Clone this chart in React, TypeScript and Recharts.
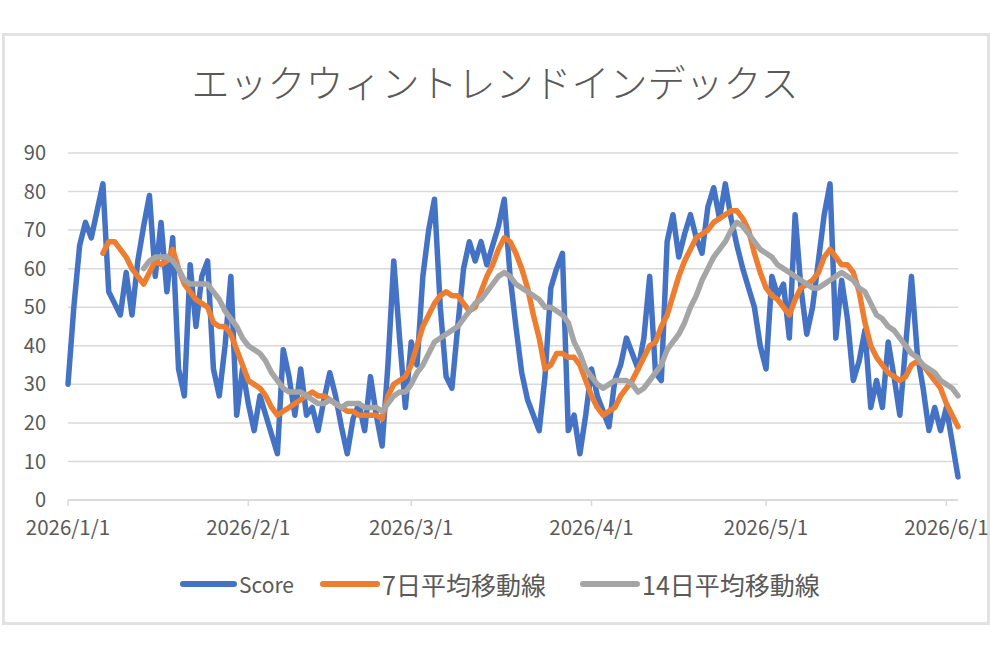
import { CartesianGrid, Line, LineChart, XAxis, YAxis } from 'recharts'

// days counted from 2026/1/1 (day 0) through 2026/6/3 (day 153)
const scores = [
  30, 50, 66, 72, 68, 75, 82, 54, 51, 48,
  59, 48, 62, 71, 79, 58, 72, 54, 68, 34,
  27, 61, 45, 58, 62, 34, 27, 40, 58, 22,
  34, 25, 18, 27, 22, 17, 12, 39, 32, 22,
  34, 22, 24, 18, 26, 33, 27, 19, 12, 21,
  25, 18, 32, 22, 14, 35, 62, 42, 24, 41,
  35, 58, 70, 78, 50, 32, 29, 45, 60, 67,
  62, 67, 61, 66, 71, 78, 58, 45, 33, 26,
  22, 18, 32, 55, 60, 64, 18, 22, 12, 22,
  34, 27, 23, 19, 31, 35, 42, 38, 34, 42,
  58, 33, 31, 67, 74, 63, 69, 74, 68, 64,
  76, 81, 73, 82, 73, 66, 60, 55, 50, 40,
  34, 58, 53, 56, 42, 74, 55, 43, 50, 62,
  74, 82, 42, 57, 47, 31, 36, 44, 24, 31,
  24, 41, 32, 22, 40, 58, 38, 29, 18, 24,
  18, 24, 15, 6,
]

// 7日平均移動線 (starts on day 6)
const ma7 = [
  null, null, null, null, null, null,
  64, 67, 67, 65, 63, 60, 58, 56, 59, 62,
  61, 62, 65, 60, 56, 54, 52, 51, 50, 46,
  45, 45, 43, 39, 35, 31, 30, 29, 27, 24,
  22, 23, 24, 25, 26, 27, 28, 27, 27, 26,
  25, 24, 23, 23, 22, 22, 22, 22, 21, 27,
  30, 31, 32, 35, 40, 45, 48, 51, 53, 54,
  53, 53, 51, 49, 50, 54, 58, 61, 65, 68,
  67, 64, 60, 55, 48, 42, 34, 35, 38, 38,
  37, 37, 35, 31, 27, 24, 22, 23, 24, 27,
  29, 31, 34, 37, 40, 41, 45, 48, 53, 58,
  62, 65, 68, 69, 70, 72, 73, 74, 75, 75,
  73, 70, 64, 59, 55, 53, 52, 50, 48, 52,
  55, 56, 57, 59, 63, 65, 63, 61, 61, 59,
  54, 46, 40, 37, 35, 33, 32, 31, 32, 35,
  36, 35, 33, 31, 29, 25, 22, 19,
]

// 14日平均移動線 (starts on day 13)
const ma14 = [
  null, null, null, null, null, null, null, null, null, null, null, null, null,
  60, 62, 63, 63, 63, 62, 60, 57, 56, 56,
  56, 56, 54, 52, 49, 47, 45, 42, 40, 39,
  38, 36, 33, 31, 29, 28, 28, 28, 27, 26,
  25, 25, 26, 25, 24, 25, 25, 25, 24, 24,
  24, 23, 25, 27, 28, 28, 30, 33, 35, 38,
  41, 42, 43, 44, 45, 47, 49, 51, 52, 54,
  56, 58, 59, 58, 56, 55, 54, 53, 52, 50,
  50, 49, 48, 46, 41, 38, 34, 32, 30, 29,
  30, 31, 31, 31, 30, 28, 29, 31, 33, 35,
  39, 41, 43, 46, 50, 53, 57, 60, 63, 65,
  67, 70, 72, 71, 69, 67, 65, 64, 63, 61,
  60, 59, 58, 57, 56, 55, 55, 56, 57, 58,
  59, 58, 57, 55, 54, 51, 48, 47, 45, 44,
  42, 40, 38, 37, 35, 34, 33, 31, 30, 29,
  27,
]

const monthStarts = [0, 31, 59, 90, 120, 151]
const monthLabels = ['2026/1/1', '2026/2/1', '2026/3/1', '2026/4/1', '2026/5/1', '2026/6/1']
const yTicks = [0, 10, 20, 30, 40, 50, 60, 70, 80, 90]

const series = [
  { key: 'score', name: 'Score', color: '#4472C4' },
  { key: 'ma7', name: '7日平均移動線', color: '#ED7D31' },
  { key: 'ma14', name: '14日平均移動線', color: '#A5A5A5' },
]

const data = scores.map((s, i) => ({ day: i, score: s, ma7: ma7[i], ma14: ma14[i] }))

const FONT = '"Noto Sans CJK JP", "Noto Sans", sans-serif'
const TEXT = '#595959'
const GRID = '#d9d9d9'

// where each legend entry starts, and its text size
const legendSpots = [
  { left: 180, size: 21 },
  { left: 320, size: 25 },
  { left: 580, size: 25 },
]

export default function App() {
  return (
    <div style={{ position: 'absolute', left: 0, top: 0, width: 990, height: 660, background: '#fff', fontFamily: FONT }}>
      <div
        style={{
          position: 'absolute',
          left: 2,
          top: 33,
          width: 982,
          height: 586,
          border: '3px solid #e2e2e2',
        }}
      />
      <div
        style={{
          position: 'absolute',
          left: 0,
          top: 57,
          width: 990,
          textAlign: 'center',
          fontSize: 38,
          lineHeight: '48px',
          fontWeight: 300,
          color: TEXT,
        }}
      >
        エックウィントレンドインデックス
      </div>
      <div style={{ position: 'absolute', left: 0, top: 0 }}>
        <LineChart width={990} height={660} data={data} margin={{ top: 153, right: 32, left: 0, bottom: 120 }}>
          <CartesianGrid vertical={false} stroke={GRID} strokeWidth={1.5} />
          <XAxis
            dataKey="day"
            type="number"
            domain={[0, 153]}
            ticks={monthStarts}
            tickFormatter={(d: number) => monthLabels[monthStarts.indexOf(d)]}
            height={40}
            stroke={GRID}
            strokeWidth={1.5}
            tickSize={6}
            tickMargin={14}
            tick={{ fill: TEXT, fontSize: 20.5, fontFamily: FONT }}
            interval={0}
          />
          <YAxis
            domain={[0, 90]}
            ticks={yTicks}
            width={68}
            axisLine={false}
            tickLine={false}
            tickSize={0}
            tickMargin={22}
            tick={{ fill: TEXT, fontSize: 20, fontFamily: FONT }}
            interval={0}
          />
          {series.map((s) => (
            <Line
              key={s.key}
              type="linear"
              dataKey={s.key}
              name={s.name}
              stroke={s.color}
              strokeWidth={5.5}
              strokeLinejoin="round"
              strokeLinecap="round"
              dot={false}
              activeDot={false}
              isAnimationActive={false}
            />
          ))}
        </LineChart>
      </div>
      {series.map((s, i) => (
        <div
          key={s.key}
          style={{
            position: 'absolute',
            left: legendSpots[i].left,
            top: 566,
            height: 36,
            display: 'flex',
            alignItems: 'center',
            fontSize: legendSpots[i].size,
            color: TEXT,
            whiteSpace: 'nowrap',
          }}
        >
          <span
            style={{
              display: 'inline-block',
              width: i === 0 ? 57 : 60,
              height: 6,
              borderRadius: 3,
              background: s.color,
              marginRight: 2,
            }}
          />
          <span>{s.name}</span>
        </div>
      ))}
    </div>
  )
}
